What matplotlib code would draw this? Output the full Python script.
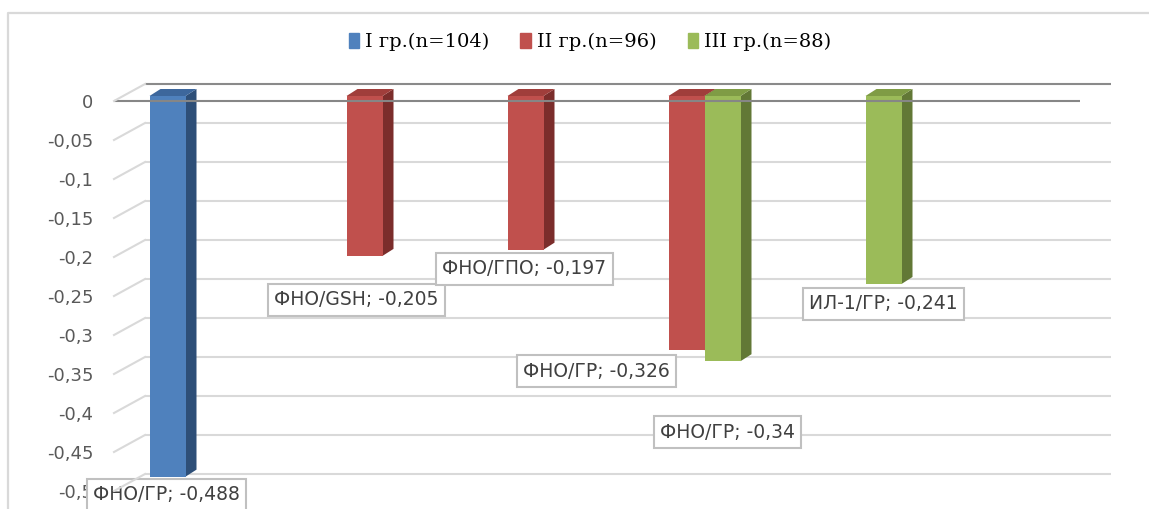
import numpy as np
import matplotlib
matplotlib.use("Agg")
import matplotlib.pyplot as plt
from matplotlib.patches import Polygon, Patch
from matplotlib.lines import Line2D
from matplotlib.transforms import ScaledTranslation, IdentityTransform

nan = np.nan

# ---------------- data ----------------
series_names = ["I гр.(n=104)", "II гр.(n=96)", "III гр.(n=88)"]
n_categories = 6
values_I = [-0.488, nan, nan, nan, nan, nan]
values_II = [nan, -0.205, -0.197, -0.326, nan, nan]
values_III = [nan, nan, nan, -0.34, -0.241, nan]
names_I = ["ФНО/ГР", "", "", "", "", ""]
names_II = ["", "ФНО/GSH", "ФНО/ГПО", "ФНО/ГР", "", ""]
names_III = ["", "", "", "ФНО/ГР", "ИЛ-1/ГР", ""]
yticks = [0, -0.05, -0.1, -0.15, -0.2, -0.25, -0.3, -0.35, -0.4, -0.45, -0.5]
ytick_labels = ["0", "-0,05", "-0,1", "-0,15", "-0,2", "-0,25", "-0,3",
                "-0,35", "-0,4", "-0,45", "-0,5"]

# ---------------- style ----------------
W, H = 1149, 509
DPI = 100
front_col = ["#4f81bd", "#c0504d", "#9bbb59"]
top_col = ["#3d679c", "#a03e3b", "#7f9c45"]
side_col = ["#2e4f78", "#7b2d2b", "#627836"]
# label offsets in pixels (dx right, dy down) relative to bar bottom
label_off = {
    (0, 0): (-1, 18),
    (1, 1): (-8, 44),
    (1, 2): (-1, 19),
    (1, 3): (-90, 21),
    (2, 3): (5, 71),
    (2, 4): (0, 20),
}
FRONT = (9, 5)     # bar front face shift (px, right / up)
DEPTH = (11, 7)    # bar depth (px)
BACK = (31, 17)    # back wall shift (px)

fig = plt.figure(figsize=(W / DPI, H / DPI), dpi=DPI)
fig.patch.set_facecolor("white")
ax = fig.add_axes([114 / W, 0, 966 / W, 408 / H])
ax.set_xlim(-0.5, n_categories - 0.5)
ax.set_ylim(-408 / 780, 0)
ax.patch.set_visible(False)
for s in ax.spines.values():
    s.set_visible(False)
ax.set_xticks([])
ax.set_yticks(yticks, ytick_labels)
ax.tick_params(axis="y", length=0, pad=15, labelsize=13, labelcolor="#595959")
for t in ax.get_yticklabels():
    t.set_family("DejaVu Sans")

def px_tr(dx, dy):
    return ax.transData + ScaledTranslation(dx / DPI, dy / DPI, fig.dpi_scale_trans)

def disp(x, y, off=(0, 0)):
    p = ax.transData.transform((x, y))
    return (p[0] + off[0], p[1] + off[1])

# back wall gridlines
back_tr = px_tr(*BACK)
xl0, xl1 = ax.get_xlim()
for v in yticks:
    col = "#8a8a8a" if v == 0 else "#d9d9d9"
    ax.plot([xl0, xl1], [v, v], color=col, lw=1.5, transform=back_tr,
            clip_on=False, zorder=1, solid_capstyle="butt")
    # left floor / wall diagonals
    p0 = disp(xl0, v)
    p1 = disp(xl0, v, BACK)
    fig.add_artist(Line2D([p0[0], p1[0]], [p0[1], p1[1]], color="#d9d9d9",
                          lw=1.5, transform=IdentityTransform(), zorder=0.5))

# bars
w = 36 / 161
front_tr = px_tr(*FRONT)
all_series = [values_I, values_II, values_III]
all_names = [names_I, names_II, names_III]
x_base = np.arange(n_categories)
for j, vals in enumerate(all_series):
    xs = x_base + (j - 1) * w
    bars = ax.bar(xs, vals, width=w, color=front_col[j], transform=front_tr,
                  clip_on=False, linewidth=0)
    for i, (b, v) in enumerate(zip(bars, vals)):
        if np.isnan(v):
            continue
        z = 2 + xs[i] * 0.5
        b.set_zorder(z + 0.02)
        x0, x1 = xs[i] - w / 2, xs[i] + w / 2
        off_f = FRONT
        off_b = (FRONT[0] + DEPTH[0], FRONT[1] + DEPTH[1])
        top = [disp(x0, 0, off_f), disp(x1, 0, off_f), disp(x1, 0, off_b), disp(x0, 0, off_b)]
        side = [disp(x1, 0, off_f), disp(x1, 0, off_b), disp(x1, v, off_b), disp(x1, v, off_f)]
        ax.add_patch(Polygon(side, closed=True, fc=side_col[j], ec="none",
                             transform=IdentityTransform(), clip_on=False, zorder=z))
        ax.add_patch(Polygon(top, closed=True, fc=top_col[j], ec="none",
                             transform=IdentityTransform(), clip_on=False, zorder=z + 0.01))
        # data label
        dx, dy = label_off[(j, i)]
        txt = f"{all_names[j][i]}; {v:g}".replace(".", ",")
        ax.annotate(txt, xy=(xs[i], v), xycoords=front_tr,
                    xytext=(dx, -dy), textcoords="offset pixels",
                    ha="center", va="center", fontsize=13.5, color="#404040",
                    family="DejaVu Sans", zorder=20, annotation_clip=False,
                    bbox=dict(boxstyle="square,pad=0.34", fc="white",
                              ec="#c0c0c0", lw=1.5))

# front zero line
ax.plot([xl0, xl1], [0, 0], color="#868686", lw=1.5, clip_on=False, zorder=15,
        solid_capstyle="butt")

# chart border (top and left edges only visible in the crop)
fig.add_artist(Line2D([8, 8, W + 5], [-5, H - 13, H - 13], color="#d9d9d9",
                      lw=1.6, transform=IdentityTransform(), zorder=0.4))

# legend
handles = [Patch(color=c) for c in front_col]
fig.legend(handles, series_names, loc="center",
           bbox_to_anchor=(590 / W, 1 - 42 / H), ncol=3, frameon=False,
           handlelength=0.55, handleheight=0.8, handletextpad=0.3,
           columnspacing=1.6, prop={"family": "DejaVu Serif", "size": 14})

fig.savefig("out.png", dpi=DPI, facecolor="white")
